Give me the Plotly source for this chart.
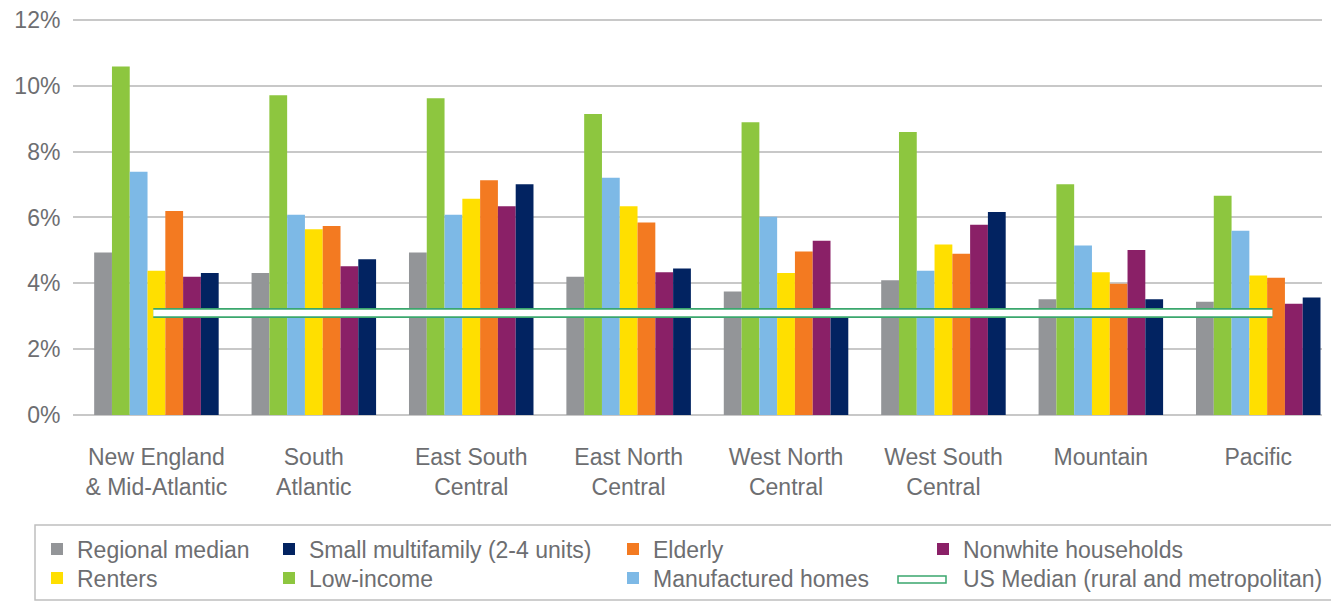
import plotly.graph_objects as go

regions = ["New England<br>& Mid-Atlantic", "South<br>Atlantic", "East South<br>Central",
           "East North<br>Central", "West North<br>Central", "West South<br>Central",
           "Mountain", "Pacific"]
regional_median = [4.94, 4.31, 4.94, 4.20, 3.75, 4.09, 3.52, 3.44]
low_income = [10.59, 9.71, 9.62, 9.14, 8.89, 8.60, 7.01, 6.66]
manufactured_homes = [7.39, 6.08, 6.08, 7.21, 6.02, 4.38, 5.15, 5.60]
renters = [4.38, 5.64, 6.57, 6.34, 4.31, 5.18, 4.34, 4.24]
elderly = [6.20, 5.74, 7.13, 5.85, 4.97, 4.90, 3.99, 4.17]
nonwhite_households = [4.20, 4.52, 6.34, 4.34, 5.29, 5.78, 5.01, 3.38]
small_multifamily = [4.31, 4.73, 7.01, 4.45, 3.00, 6.17, 3.52, 3.57]
us_median = 3.1
y_ticks = [0, 2, 4, 6, 8, 10, 12]
y_ticktext = [f"{v}%" for v in y_ticks]

# page geometry (the page body adds an 8px offset)
W, H, OFF = 1339, 602, 8
PL, PR, PT, PB = 73, 1322, 18, 415          # plot area in window pixels
PW, PH = PR - PL, PB - PT
FW, FH = W - OFF, H - OFF


def px_x(p):
    return (p - PL) / PW


def px_y(p):
    return (PB - p) / PH


TEXT = "#6d6e71"
FONT = "Liberation Sans"
GREEN_LINE = "#3aa76d"
xs = list(range(len(regions)))

# name, values, colour, legend id (column/row)
series = [
    ("Regional median", regional_median, "#939598", "legend"),
    ("Low-income", low_income, "#8dc63f", "legend6"),
    ("Manufactured homes", manufactured_homes, "#7db9e6", "legend7"),
    ("Renters", renters, "#ffdf00", "legend5"),
    ("Elderly", elderly, "#f37a21", "legend3"),
    ("Nonwhite households", nonwhite_households, "#8a2067", "legend4"),
    ("Small multifamily (2-4 units)", small_multifamily, "#022361", "legend2"),
]

fig = go.Figure()
for name, vals, color, lg in series:
    fig.add_trace(go.Bar(x=xs, y=vals, name=name, marker=dict(color=color, line=dict(width=0)),
                         legend=lg))

line_x = [xs[0] - 0.02, xs[-1] + 0.09]
fig.add_trace(go.Scatter(x=line_x, y=[us_median, us_median], mode="lines",
                         line=dict(color=GREEN_LINE, width=10), showlegend=False, hoverinfo="skip"))
fig.add_trace(go.Scatter(x=line_x, y=[us_median, us_median], mode="lines",
                         line=dict(color="white", width=6.5), showlegend=False, hoverinfo="skip"))
# legend entry for the US median band (its symbol is drawn as a shape below)
fig.add_trace(go.Scatter(x=[None], y=[None], mode="lines", line=dict(color="rgba(0,0,0,0)"),
                         name="US Median (rural and metropolitan)", legend="legend8"))

legend_common = dict(orientation="v", xanchor="left", yanchor="middle", bgcolor="rgba(0,0,0,0)",
                     borderwidth=0, font=dict(family=FONT, size=23, color=TEXT),
                     itemclick=False, itemdoubleclick=False)
col_x = [37, 269, 613, 923]
row_y = [549, 578]
legends = {}
names = ["legend", "legend2", "legend3", "legend4", "legend5", "legend6", "legend7", "legend8"]
for i, nm in enumerate(names):
    r, c = divmod(i, 4)
    legends[nm] = dict(legend_common, x=px_x(col_x[c]), y=px_y(row_y[r]))

fig.update_layout(
    width=FW, height=FH,
    margin=dict(l=PL - OFF, r=FW - (PR - OFF), t=PT - OFF, b=FH - (PB - OFF), autoexpand=False),
    paper_bgcolor="white", plot_bgcolor="white",
    barmode="group", bargap=0.209, bargroupgap=0,
    font=dict(family=FONT, size=22, color=TEXT),
    showlegend=True,
    xaxis=dict(range=[-0.530, 7.405], tickvals=xs, ticktext=regions, showgrid=False,
               zeroline=False, showline=False, ticks="outside", ticklen=21,
               tickcolor="rgba(0,0,0,0)", tickfont=dict(family=FONT, size=23, color=TEXT)),
    yaxis=dict(range=[0, 12.06], tickvals=y_ticks, ticktext=y_ticktext, showgrid=True,
               gridcolor="#c8c8c8", gridwidth=1.5, zeroline=True, zerolinecolor="#c8c8c8",
               zerolinewidth=2, showline=False, ticks="outside", ticklen=7,
               ticklabeloverflow="allow",
               tickcolor="rgba(0,0,0,0)", tickfont=dict(family=FONT, size=23, color=TEXT)),
    shapes=[
        dict(type="rect", xref="paper", yref="paper", x0=px_x(35), x1=px_x(1337),
             y0=px_y(525), y1=px_y(600), line=dict(color="#bfbfbf", width=1.5),
             fillcolor="rgba(0,0,0,0)", layer="above"),
        dict(type="rect", xref="paper", yref="paper", x0=px_x(898), x1=px_x(946),
             y0=px_y(576), y1=px_y(583), line=dict(color=GREEN_LINE, width=1.5),
             fillcolor="white", layer="above"),
    ],
    **legends,
)

fig.write_html("out.html")
